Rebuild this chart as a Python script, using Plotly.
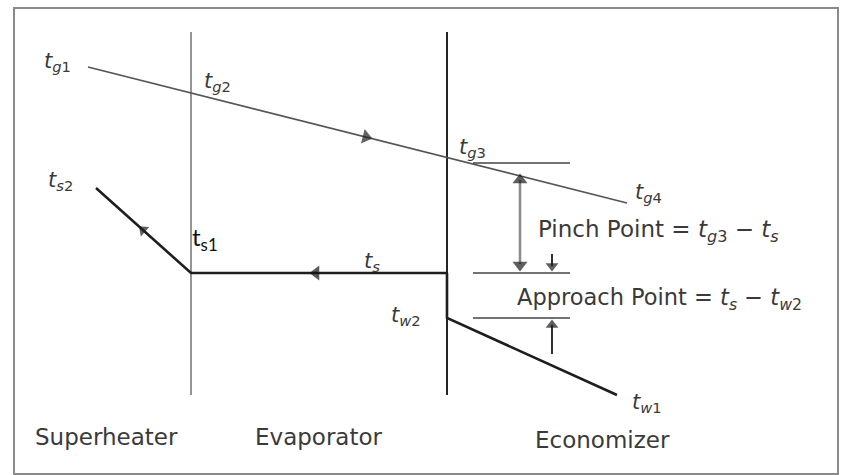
import plotly.graph_objects as go

# ---- diagram data (positions along the HRSG, temperature level on screen scale) ----
gas_x = [88, 191, 448, 627]          # t_g1 -> t_g2 -> t_g3 -> t_g4
gas_y = [67, 93, 158, 203]

steam_x = [96, 191, 448]             # t_s2 <- t_s1 <- t_s
steam_y = [188, 273, 273]

water_x = [447, 447, 617]            # t_s / t_w2 -> t_w1
water_y = [273, 318, 395]

section_x = [191, 447]               # section boundaries
section_top = 32
section_bottom = 395

ref_levels = [163, 273, 318]         # t_g3, t_s, t_w2 reference lines
ref_x0, ref_x1 = 473, 570

section_names = ["Superheater", "Evaporator", "Economizer"]
section_label_x = [33, 253, 533]
section_label_y = [437, 437, 440]

FONT = "DejaVu Sans"
TXT = "#3a3a3a"

fig = go.Figure()

# frame
fig.add_shape(type="rect", x0=14, y0=8, x1=838, y1=474,
              line=dict(color="#8a8a8a", width=2), layer="below")


def seg(xs, ys, color, width):
    fig.add_trace(go.Scatter(x=xs, y=ys, mode="lines", line=dict(color=color, width=width),
                             hoverinfo="skip"))


# section boundaries
seg([section_x[0], section_x[0]], [section_top, section_bottom], "#7a7a7a", 1.6)
seg([section_x[1], section_x[1]], [section_top, section_bottom], "#262626", 2)

# profiles
seg(gas_x, gas_y, "#555555", 1.7)
seg(steam_x, steam_y, "#1e1e1e", 2.6)
seg(water_x, water_y, "#1e1e1e", 2.6)

# reference lines
for lv in ref_levels:
    seg([ref_x0, ref_x1], [lv, lv], "#444444", 1.5)


def head(tx, ty, hx, hy, color, size, shaft=None):
    """arrowhead at (hx,hy) oriented from (tx,ty); optional shaft drawn too"""
    if shaft:
        seg([tx, hx], [ty, hy], color, shaft)
    fig.add_trace(go.Scatter(
        x=[tx, hx], y=[ty, hy], mode="markers", hoverinfo="skip",
        marker=dict(symbol="triangle-up", size=[0, size], color=color,
                    angleref="previous", line=dict(width=0))))


# flow-direction arrows on the profiles
head(340, 130.5, 366, 137, "#222222", 13)
head(340, 273, 316, 273, "#111111", 13)
head(160, 245, 143, 230, "#1e1e1e", 11)

# pinch double arrow
seg([520, 520], [180, 264], "#8c8c8c", 2.6)
head(520, 200, 520, 180, "#1a1a1a", 13)
head(520, 250, 520, 265, "#1a1a1a", 13)
# small indicator arrows
head(552, 254, 552, 266, "#1a1a1a", 11, shaft=1.8)
head(552, 354, 552, 325, "#1a1a1a", 11, shaft=1.8)


def label(x, y, html, size=21, color=TXT, family=FONT):
    fig.add_annotation(x=x, y=y, xref="x", yref="y", text=html, showarrow=False,
                       xanchor="left", yanchor="middle",
                       font=dict(family=family, size=size, color=color))


label(42, 62, "<i>t</i><sub><i>g</i>1</sub>")
label(202, 82, "<i>t</i><sub><i>g</i>2</sub>")
label(457, 148, "<i>t</i><sub><i>g</i>3</sub>")
label(633, 193, "<i>t</i><sub><i>g</i>4</sub>")
label(46, 181, "<i>t</i><sub><i>s</i>2</sub>")
label(190, 238, "t<sub>s1</sub>", size=24, color="#111111", family="Lato")
label(362, 262, "<i>t</i><sub><i>s</i></sub>")
label(389, 316, "<i>t</i><sub><i>w</i>2</sub>")
label(630, 403, "<i>t</i><sub><i>w</i>1</sub>")

label(536, 231, "Pinch Point = <i>t</i><sub><i>g</i>3</sub> − <i>t</i><sub><i>s</i></sub>", size=23)
label(515, 299, "Approach Point = <i>t</i><sub><i>s</i></sub> − <i>t</i><sub><i>w</i>2</sub>", size=22.5)

for name, lx, ly in zip(section_names, section_label_x, section_label_y):
    label(lx, ly, name, size=23)

fig.update_layout(
    width=842, height=475,
    margin=dict(l=0, r=0, t=0, b=0),
    paper_bgcolor="white", plot_bgcolor="white",
    showlegend=False,
    xaxis=dict(range=[0, 842], visible=False, fixedrange=True),
    yaxis=dict(range=[475, 0], visible=False, fixedrange=True),
)

fig.write_html("out.html", config={"displayModeBar": False},
               post_script="document.body.style.margin='0';document.body.style.overflow='hidden';")
